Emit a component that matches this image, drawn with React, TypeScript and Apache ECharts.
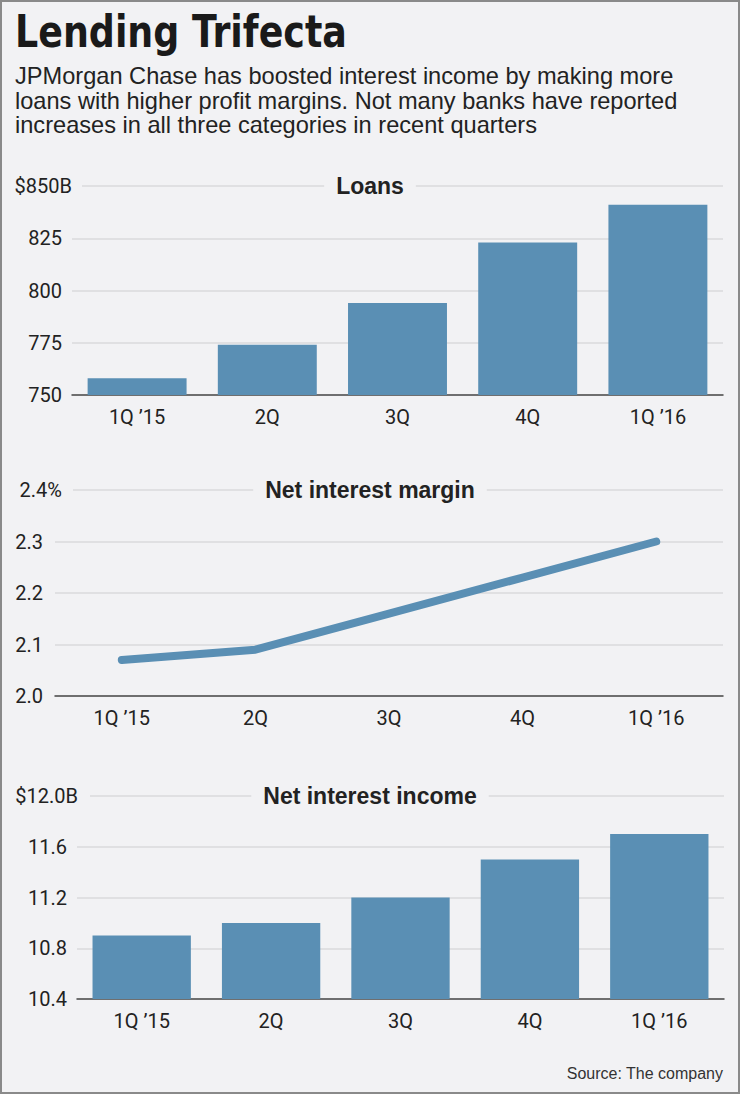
import React, { useEffect, useRef } from 'react';
import * as echarts from 'echarts';

// ---- data ----
const quarters = ['1Q \u201915', '2Q', '3Q', '4Q', '1Q \u201916'];

const loans = [758, 774, 794, 823, 841];
const loansTicks = ['750', '775', '800', '825', '$850B'];

const nim = [2.07, 2.09, 2.16, 2.23, 2.3];
const nimTicks = ['2.0', '2.1', '2.2', '2.3', '2.4%'];

const nii = [10.9, 11.0, 11.2, 11.5, 11.7];
const niiTicks = ['10.4', '10.8', '11.2', '11.6', '$12.0B'];

const titleText = 'Lending Trifecta';
const subtitleLines = [
  'JPMorgan Chase has boosted interest income by making more',
  'loans with higher profit margins. Not many banks have reported',
  'increases in all three categories in recent quarters',
];
const panelTitles = ['Loans', 'Net interest margin', 'Net interest income'];
const sourceText = 'Source: The company';

// ---- style ----
const BG = '#f2f2f4';
const BLUE = '#5a8fb4';
const GRID = '#dadadd';
const AXIS = '#4a4a4a';
const TEXT = '#222222';
const TICK_FONT = 'Roboto';
const SANS = '"Liberation Sans", Arial, sans-serif';

const panels = [
  { ticks: loansTicks, min: 750, max: 850, interval: 25, grid: { left: 72, right: 17, top: 186, height: 209 }, margin: 10, topMargin: -10, topPad: 10, titleY: 186 },
  { ticks: nimTicks, min: 2.0, max: 2.4, interval: 0.1, grid: { left: 55, right: 17, top: 490, height: 206 }, margin: 12, topMargin: -18, topPad: 11, titleY: 490 },
  { ticks: niiTicks, min: 10.4, max: 12.0, interval: 0.4, grid: { left: 77, right: 16, top: 796, height: 203 }, margin: 10, topMargin: -13, topPad: 12, titleY: 796 },
];

export default function App() {
  const ref = useRef<HTMLDivElement>(null);

  useEffect(() => {
    if (!ref.current) return;
    const chart = echarts.init(ref.current, undefined, { renderer: 'svg' });

    const grids = panels.map((p) => ({ ...p.grid, containLabel: false }));

    const xAxes = panels.map((p, i) => ({
      type: 'category',
      gridIndex: i,
      data: quarters,
      axisLine: { show: true, lineStyle: { color: AXIS, width: 1.5 } },
      axisTick: { show: false },
      axisLabel: { color: TEXT, fontFamily: TICK_FONT, fontSize: 20, margin: 12 },
      splitLine: { show: false },
    }));

    const yAxes: any[] = [];
    panels.forEach((p, i) => {
      const idxOf = (v: number) => Math.round((v - p.min) / p.interval);
      const last = p.ticks.length - 1;
      yAxes.push({
        type: 'value',
        gridIndex: i,
        position: 'left',
        min: p.min,
        max: p.max,
        interval: p.interval,
        axisLine: { show: false },
        axisTick: { show: false },
        splitLine: { show: true, lineStyle: { color: GRID, width: 1.5 } },
        axisLabel: {
          color: TEXT,
          fontFamily: TICK_FONT,
          fontSize: 20,
          margin: p.margin,
          formatter: (v: number) => {
            const k = idxOf(v);
            return k === last ? '' : p.ticks[k] ?? '';
          },
        },
      });
      yAxes.push({
        type: 'value',
        gridIndex: i,
        position: 'left',
        offset: 0,
        min: p.min,
        max: p.max,
        interval: p.interval,
        axisLine: { show: false },
        axisTick: { show: false },
        splitLine: { show: false },
        axisLabel: {
          color: TEXT,
          fontFamily: TICK_FONT,
          fontSize: 20,
          margin: p.topMargin,
          align: 'right',
          formatter: (v: number) => {
            const k = idxOf(v);
            return k === last ? '{t|' + p.ticks[k] + '}' : '';
          },
          rich: {
            t: {
              color: TEXT,
              fontFamily: TICK_FONT,
              fontSize: 20,
              backgroundColor: BG,
              padding: [3, p.topPad, 3, 4],
            },
          },
        },
      });
    });

    const series: any[] = [
      {
        type: 'bar',
        xAxisIndex: 0,
        yAxisIndex: 0,
        data: loans,
        barWidth: '76%',
        itemStyle: { color: BLUE },
        silent: true,
      },
      {
        type: 'line',
        xAxisIndex: 1,
        yAxisIndex: 2,
        data: nim,
        symbol: 'none',
        lineStyle: { color: BLUE, width: 8, cap: 'round', join: 'round' },
        silent: true,
      },
      {
        type: 'bar',
        xAxisIndex: 2,
        yAxisIndex: 4,
        data: nii,
        barWidth: '76%',
        itemStyle: { color: BLUE },
        silent: true,
      },
    ];

    const titles = panels.map((p, i) => ({
      text: panelTitles[i],
      left: 'center',
      top: p.titleY - 13,
      padding: [1, 12, 1, 12],
      backgroundColor: BG,
      textStyle: { fontFamily: SANS, fontSize: 23, fontWeight: 'bold', color: TEXT, lineHeight: 24 },
    }));

    chart.setOption({
      animation: false,
      backgroundColor: BG,
      title: titles,
      grid: grids,
      xAxis: xAxes,
      yAxis: yAxes,
      series,
      graphic: [
        {
          type: 'rect',
          shape: { x: 1, y: 1, width: 738, height: 1092 },
          style: { fill: 'none', stroke: '#8a8a8a', lineWidth: 2 },
          silent: true,
        },
        {
          type: 'text',
          x: 15,
          y: 32,
          scaleX: 0.92,
          style: {
            text: titleText,
            font: 'bold 44px "DejaVu Sans Condensed", "DejaVu Sans", sans-serif',
            fill: '#1a1a1a',
            verticalAlign: 'middle',
            align: 'left',
          },
          silent: true,
        },
        {
          type: 'text',
          x: 15,
          y: 64,
          style: {
            text: subtitleLines.join('\n'),
            font: '23.6px "Liberation Sans", Arial, sans-serif',
            fill: TEXT,
            lineHeight: 24.5,
            verticalAlign: 'top',
            align: 'left',
          },
          silent: true,
        },
        {
          type: 'text',
          x: 723,
          y: 1073,
          style: {
            text: sourceText,
            font: '16px "Liberation Sans", Arial, sans-serif',
            fill: '#333333',
            verticalAlign: 'middle',
            align: 'right',
          },
          silent: true,
        },
      ],
    });

    return () => chart.dispose();
  }, []);

  return (
    <div
      ref={ref}
      style={{ position: 'absolute', left: 0, top: 0, width: 740, height: 1094 }}
    />
  );
}
